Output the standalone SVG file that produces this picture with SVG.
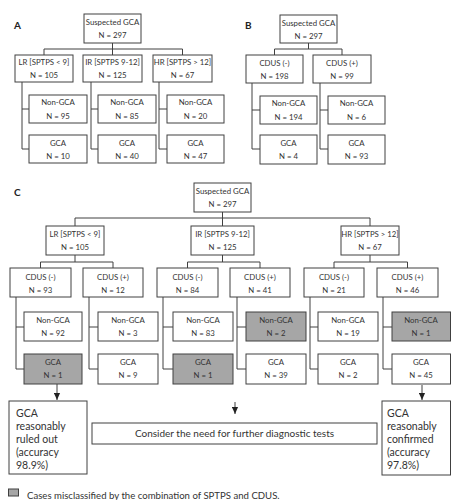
<svg xmlns="http://www.w3.org/2000/svg" width="451" height="500" viewBox="0 0 451 500">
<defs>
<style>
rect.b{fill:#fff;stroke:#404040;stroke-width:1}
rect.g{fill:#a6a6a6;stroke:#404040;stroke-width:1}
text{font-family:Lato,"Liberation Sans",sans-serif;fill:#333}
text.t{font-size:7.8px;text-anchor:middle}
text.o{font-size:10.5px}
text.m{font-size:10px;text-anchor:middle}
text.g2{font-size:9.6px}
text.l{font-size:10px;font-weight:bold;fill:#222}
#connectors path{fill:none;stroke:#404040;stroke-width:1}
</style>
<marker id="arr" viewBox="0 0 8 8" refX="8" refY="4" markerWidth="7" markerHeight="7" markerUnits="userSpaceOnUse" orient="auto">
<path d="M0,0.5 L8,4 L0,7.5 Z" fill="#222"/>
</marker>
</defs>
<rect width="451" height="500" fill="#fff"/>

<g id="connectors">
<path d="M112.5 43V49M44 49H182.5M44 49V55M112.5 49V55M182.5 49V55"/>
<path d="M22 82V149M22 109H29M22 149H29"/>
<path d="M91 82V149M91 109H98M91 149H98"/>
<path d="M159 82V149M159 109H167M159 149H167"/>
<path d="M308.5 43V49M274.5 49H342M274.5 49V55M342 49V55"/>
<path d="M252 83V149M252 110H260M252 149H260"/>
<path d="M320 83V149M320 110H328M320 149H328"/>
<path d="M222.5 212V218M75 218H370M75 218V226M222.5 218V226M370 218V226"/>
<path d="M75 255V262M40.5 262H113M40.5 262V268M113 262V268"/>
<path d="M222.5 255V262M187.5 262H260M187.5 262V268M260 262V268"/>
<path d="M370 255V262M334 262H407.5M334 262V268M407.5 262V268"/>
<path d="M16 297V369M16 327H24M16 369H24"/>
<path d="M89 297V369M89 327H98M89 369H98"/>
<path d="M163 297V369M163 327H173M163 369H173"/>
<path d="M237 297V369M237 327H246M237 369H246"/>
<path d="M310 297V369M310 327H318M310 369H318"/>
<path d="M383 297V369M383 327H392M383 369H392"/>
<path d="M57 384V400" marker-end="url(#arr)"/>
<path d="M235 402V414" marker-end="url(#arr)"/>
<path d="M422 385V400" marker-end="url(#arr)"/>
</g>

<text class="l" x="14" y="29">A</text>
<text class="l" x="245" y="29">B</text>
<text class="l" x="14" y="196">C</text>

<g id="a-root"><rect class="b" x="84" y="14" width="57" height="29"/><text class="t" x="112.5" y="25">Suspected GCA</text><text class="t" x="112.5" y="38">N = 297</text></g>
<g id="a-lr"><rect class="b" x="15" y="55" width="58" height="27"/><text class="t" x="44" y="65">LR [SPTPS &lt; 9]</text><text class="t" x="44" y="78">N = 105</text></g>
<g id="a-ir"><rect class="b" x="83" y="55" width="59" height="27"/><text class="t" x="112.5" y="65">IR [SPTPS 9-12]</text><text class="t" x="112.5" y="78">N = 125</text></g>
<g id="a-hr"><rect class="b" x="153" y="55" width="59" height="27"/><text class="t" x="182.5" y="65">HR [SPTPS &gt; 12]</text><text class="t" x="182.5" y="78">N = 67</text></g>
<g id="a-lr-non"><rect class="b" x="29" y="95" width="58" height="28"/><text class="t" x="58" y="105">Non-GCA</text><text class="t" x="58" y="119">N = 95</text></g>
<g id="a-ir-non"><rect class="b" x="98" y="95" width="58" height="28"/><text class="t" x="127" y="105">Non-GCA</text><text class="t" x="127" y="119">N = 85</text></g>
<g id="a-hr-non"><rect class="b" x="167" y="95" width="57" height="28"/><text class="t" x="195.5" y="105">Non-GCA</text><text class="t" x="195.5" y="119">N = 20</text></g>
<g id="a-lr-gca"><rect class="b" x="29" y="135" width="58" height="28"/><text class="t" x="58" y="146">GCA</text><text class="t" x="58" y="159">N = 10</text></g>
<g id="a-ir-gca"><rect class="b" x="98" y="135" width="58" height="28"/><text class="t" x="127" y="146">GCA</text><text class="t" x="127" y="159">N = 40</text></g>
<g id="a-hr-gca"><rect class="b" x="167" y="135" width="57" height="28"/><text class="t" x="195.5" y="146">GCA</text><text class="t" x="195.5" y="159">N = 47</text></g>

<g id="b-root"><rect class="b" x="280" y="15" width="57" height="28"/><text class="t" x="308.5" y="26">Suspected GCA</text><text class="t" x="308.5" y="38.5">N = 297</text></g>
<g id="b-neg"><rect class="b" x="246" y="55" width="57" height="28"/><text class="t" x="274.5" y="66">CDUS (-)</text><text class="t" x="274.5" y="79">N = 198</text></g>
<g id="b-pos"><rect class="b" x="313" y="55" width="58" height="28"/><text class="t" x="342" y="66">CDUS (+)</text><text class="t" x="342" y="79">N = 99</text></g>
<g id="b-neg-non"><rect class="b" x="260" y="96" width="57" height="28"/><text class="t" x="288.5" y="106">Non-GCA</text><text class="t" x="288.5" y="120">N = 194</text></g>
<g id="b-pos-non"><rect class="b" x="328" y="96" width="57" height="28"/><text class="t" x="356.5" y="106">Non-GCA</text><text class="t" x="356.5" y="120">N = 6</text></g>
<g id="b-neg-gca"><rect class="b" x="260" y="135" width="57" height="29"/><text class="t" x="288.5" y="146">GCA</text><text class="t" x="288.5" y="159">N = 4</text></g>
<g id="b-pos-gca"><rect class="b" x="328" y="135" width="57" height="29"/><text class="t" x="356.5" y="146">GCA</text><text class="t" x="356.5" y="159">N = 93</text></g>

<g id="c-root"><rect class="b" x="194" y="183" width="57" height="29"/><text class="t" x="222.5" y="194">Suspected GCA</text><text class="t" x="222.5" y="207">N = 297</text></g>
<g id="c-lr"><rect class="b" x="46" y="226" width="58" height="29"/><text class="t" x="75" y="237">LR [SPTPS &lt; 9]</text><text class="t" x="75" y="250">N = 105</text></g>
<g id="c-ir"><rect class="b" x="191" y="226" width="63" height="29"/><text class="t" x="222.5" y="237">IR [SPTPS 9-12]</text><text class="t" x="222.5" y="250">N = 125</text></g>
<g id="c-hr"><rect class="b" x="341" y="226" width="58" height="29"/><text class="t" x="370" y="237">HR [SPTPS &gt; 12]</text><text class="t" x="370" y="250">N = 67</text></g>

<g id="c-lr-neg"><rect class="b" x="10" y="268" width="61" height="29"/><text class="t" x="40.5" y="280">CDUS (-)</text><text class="t" x="40.5" y="293">N = 93</text></g>
<g id="c-lr-pos"><rect class="b" x="83" y="268" width="60" height="29"/><text class="t" x="113" y="280">CDUS (+)</text><text class="t" x="113" y="293">N = 12</text></g>
<g id="c-ir-neg"><rect class="b" x="157" y="268" width="61" height="29"/><text class="t" x="187.5" y="280">CDUS (-)</text><text class="t" x="187.5" y="293">N = 84</text></g>
<g id="c-ir-pos"><rect class="b" x="230" y="268" width="60" height="29"/><text class="t" x="260" y="280">CDUS (+)</text><text class="t" x="260" y="293">N = 41</text></g>
<g id="c-hr-neg"><rect class="b" x="304" y="268" width="60" height="29"/><text class="t" x="334" y="280">CDUS (-)</text><text class="t" x="334" y="293">N = 21</text></g>
<g id="c-hr-pos"><rect class="b" x="377" y="268" width="61" height="29"/><text class="t" x="407.5" y="280">CDUS (+)</text><text class="t" x="407.5" y="293">N = 46</text></g>

<g id="c-lr-neg-non"><rect class="b" x="24" y="312" width="58" height="29"/><text class="t" x="53" y="323">Non-GCA</text><text class="t" x="53" y="336">N = 92</text></g>
<g id="c-lr-pos-non"><rect class="b" x="98" y="312" width="60" height="29"/><text class="t" x="128" y="323">Non-GCA</text><text class="t" x="128" y="336">N = 3</text></g>
<g id="c-ir-neg-non"><rect class="b" x="173" y="312" width="60" height="29"/><text class="t" x="203" y="323">Non-GCA</text><text class="t" x="203" y="336">N = 83</text></g>
<g id="c-ir-pos-non"><rect class="g" x="246" y="312" width="60" height="29"/><text class="t" x="276" y="323">Non-GCA</text><text class="t" x="276" y="336">N = 2</text></g>
<g id="c-hr-neg-non"><rect class="b" x="318" y="312" width="60" height="29"/><text class="t" x="348" y="323">Non-GCA</text><text class="t" x="348" y="336">N = 19</text></g>
<g id="c-hr-pos-non"><rect class="g" x="392" y="312" width="58.5" height="29"/><text class="t" x="421" y="323">Non-GCA</text><text class="t" x="421" y="336">N = 1</text></g>

<g id="c-lr-neg-gca"><rect class="g" x="24" y="354" width="58" height="30"/><text class="t" x="53" y="365">GCA</text><text class="t" x="53" y="378">N = 1</text></g>
<g id="c-lr-pos-gca"><rect class="b" x="98" y="354" width="60" height="30"/><text class="t" x="128" y="365">GCA</text><text class="t" x="128" y="378">N = 9</text></g>
<g id="c-ir-neg-gca"><rect class="g" x="173" y="354" width="60" height="30"/><text class="t" x="203" y="365">GCA</text><text class="t" x="203" y="378">N = 1</text></g>
<g id="c-ir-pos-gca"><rect class="b" x="246" y="354" width="60" height="30"/><text class="t" x="276" y="365">GCA</text><text class="t" x="276" y="378">N = 39</text></g>
<g id="c-hr-neg-gca"><rect class="b" x="318" y="354" width="60" height="30"/><text class="t" x="348" y="365">GCA</text><text class="t" x="348" y="378">N = 2</text></g>
<g id="c-hr-pos-gca"><rect class="b" x="392" y="354" width="58.5" height="30"/><text class="t" x="421" y="365">GCA</text><text class="t" x="421" y="378">N = 45</text></g>

<g id="out-left"><rect class="b" x="9" y="401" width="78" height="73"/>
<text class="o" x="16" y="417">GCA</text><text class="o" x="16" y="430">reasonably</text><text class="o" x="16" y="443">ruled out</text><text class="o" x="16" y="456">(accuracy</text><text class="o" x="16" y="469">98.9%)</text></g>
<g id="out-mid"><rect class="b" x="92" y="423" width="285" height="21"/><text class="m" x="234.5" y="437">Consider the need for further diagnostic tests</text></g>
<g id="out-right"><rect class="b" x="382" y="401" width="68.5" height="74"/>
<text class="o" x="387" y="417">GCA</text><text class="o" x="387" y="430">reasonably</text><text class="o" x="387" y="443">confirmed</text><text class="o" x="387" y="456">(accuracy</text><text class="o" x="387" y="469">97.8%)</text></g>

<g id="legend"><rect class="g" x="8.5" y="489" width="10" height="7"/><text class="g2" x="27" y="498.5">Cases misclassified by the combination of SPTPS and CDUS.</text></g>
</svg>
